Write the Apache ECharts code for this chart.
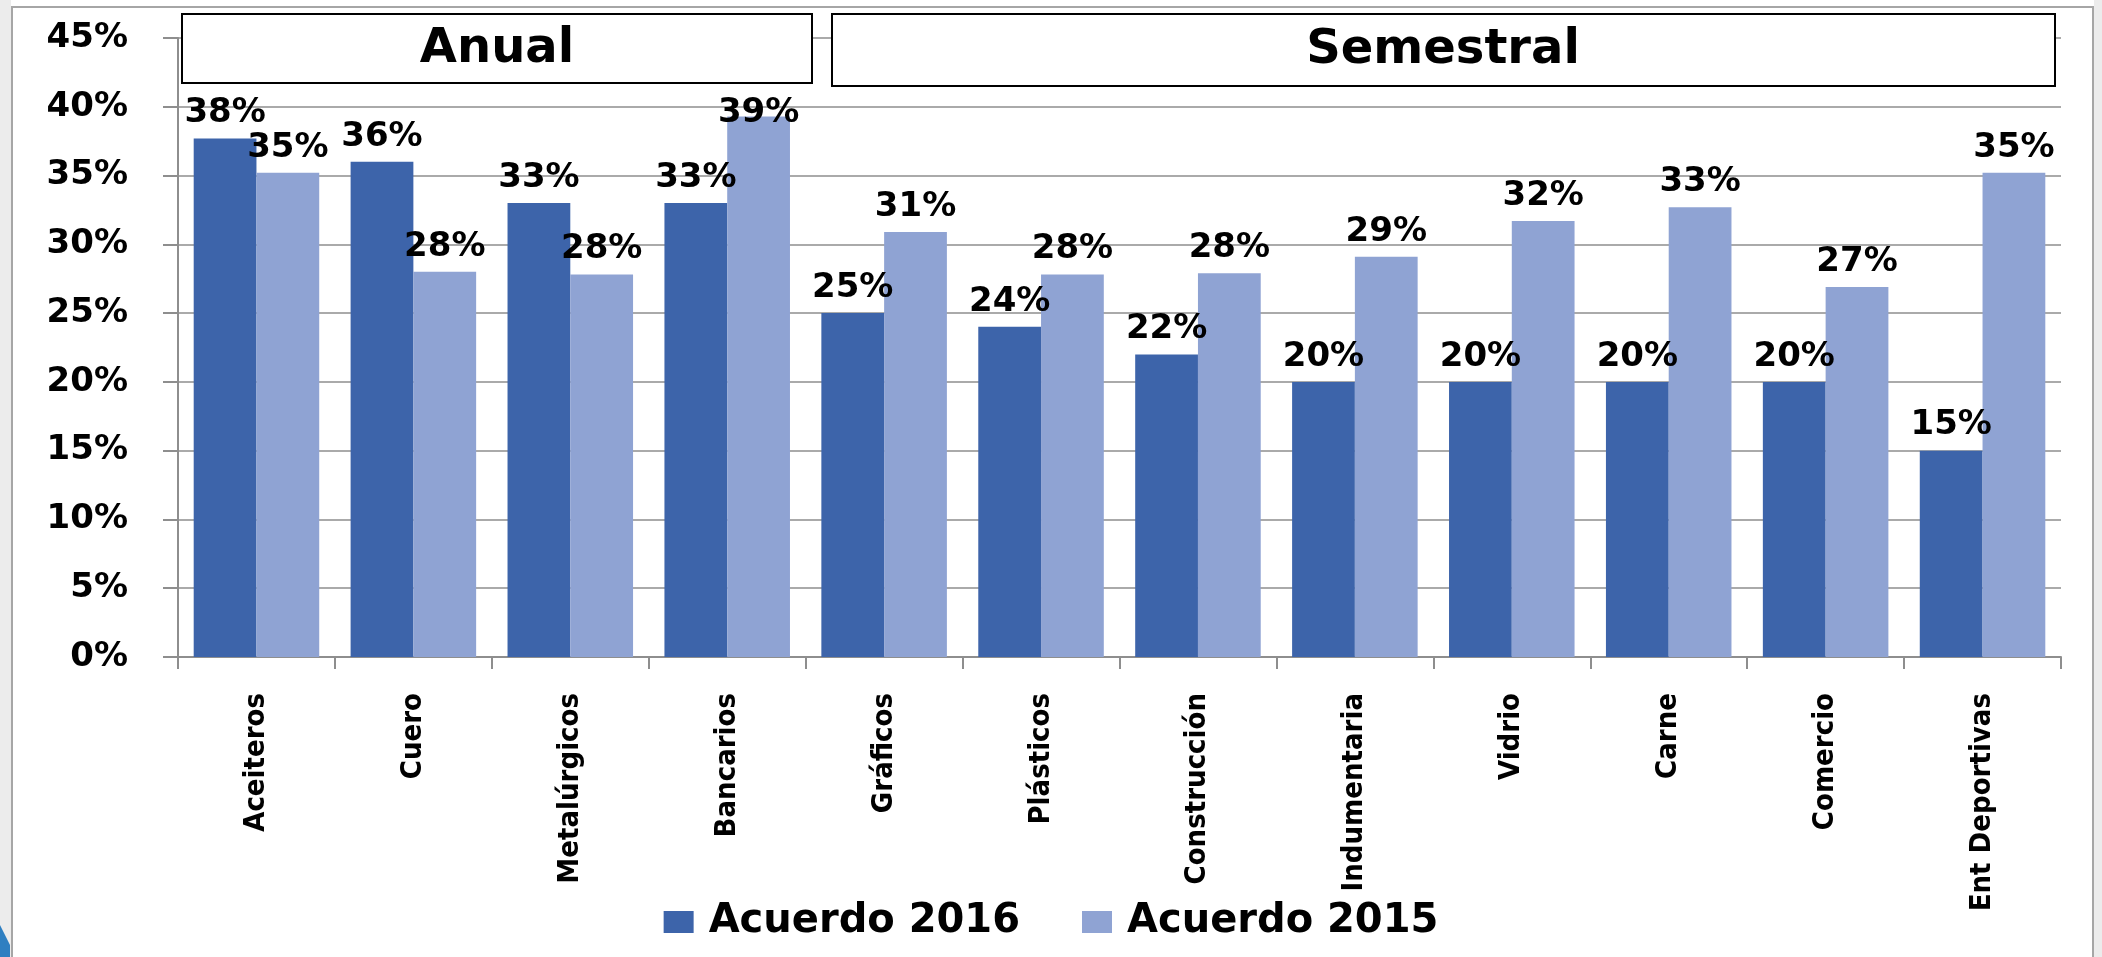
<!DOCTYPE html>
<html>
<head>
<meta charset="utf-8">
<script src="https://cdn.jsdelivr.net/npm/echarts@6/dist/echarts.min.js"></script>
<style>
  html, body { margin: 0; padding: 0; background: #fff; }
  #main { width: 2102px; height: 957px; }
</style>
</head>
<body>
<div id="main"></div>
<script>
// categorias (eje x)
var sectores = ['Aceiteros', 'Cuero', 'Metalúrgicos', 'Bancarios', 'Gráficos', 'Plásticos',
  'Construcción', 'Indumentaria', 'Vidrio', 'Carne', 'Comercio', 'Ent Deportivas'];
// porcentajes
var acuerdo2016 = [37.7, 36.0, 33.0, 33.0, 25.0, 24.0, 22.0, 20.0, 20.0, 20.0, 20.0, 15.0];
var acuerdo2015 = [35.2, 28.0, 27.8, 39.3, 30.9, 27.8, 27.9, 29.1, 31.7, 32.7, 26.9, 35.2];
var nombres = ['Acuerdo 2016', 'Acuerdo 2015'];
var colores = ['#3d64aa', '#8fa3d3'];

var fuente = 'DejaVu Sans';
var fuenteEstrecha = '"Liberation Sans Narrow", "DejaVu Sans Condensed", "Roboto Condensed", "Liberation Sans", sans-serif';

var myChart = echarts.init(document.getElementById('main'));

var etiqueta = {//etiquetas encima de las barras
  show: true,
  position: 'top',
  distance: 8,
  color: '#000',
  fontFamily: fuente,
  fontWeight: 'bold',
  fontSize: 34,
  formatter: function (p) { return Math.round(p.value) + '%'; }
};

// la etiqueta de Bancarios 2015 queda bajo la caja "Anual", se baja un poco
var datos2015 = acuerdo2015.map(function (v, i) {
  if (sectores[i] === 'Bancarios') {
    return { value: v, label: { offset: [0, 22] } };
  }
  return v;
});

var option = {
  backgroundColor: '#fff',
  animation: false,
  color: colores,
  grid: { left: 178, right: 41, top: 38, bottom: 300 },
  legend: {
    data: nombres,
    top: 897,
    left: 'center',
    itemWidth: 30,
    itemHeight: 22,
    itemGap: 62,
    icon: 'rect',
    textStyle: {
      fontFamily: fuente,
      fontWeight: 'bold',
      fontSize: 40,
      color: '#000',
      padding: [0, 0, 0, 10]
    }
  },
  xAxis: {
    type: 'category',
    data: sectores,
    axisLine: { lineStyle: { color: '#8e8e8e', width: 2 } },
    axisTick: { show: true, length: 12, lineStyle: { color: '#8e8e8e', width: 2 } },
    axisLabel: {
      rotate: 90,
      margin: 36,
      color: '#000',
      fontFamily: fuenteEstrecha,
      fontWeight: 'bold',
      fontSize: 29,
      interval: 0
    }
  },
  yAxis: {
    type: 'value',
    min: 0,
    max: 45,
    interval: 5,
    axisLine: { show: true, lineStyle: { color: '#8e8e8e', width: 2 } },
    axisTick: { show: true, length: 15, lineStyle: { color: '#8e8e8e', width: 2 } },
    splitLine: { show: true, lineStyle: { color: '#8e8e8e', width: 1.5 } },
    axisLabel: {
      formatter: '{value}%',
      margin: 50,
      color: '#000',
      fontFamily: fuente,
      fontWeight: 'bold',
      fontSize: 34
    }
  },
  series: [
    {
      name: nombres[0],
      type: 'bar',
      data: acuerdo2016,
      barGap: '0%',
      barCategoryGap: '20%',
      label: etiqueta
    },
    {
      name: nombres[1],
      type: 'bar',
      data: datos2015,
      barGap: '0%',
      barCategoryGap: '20%',
      label: etiqueta
    }
  ],
  graphic: [
    // marco exterior
    { type: 'rect', z: 1, shape: { x: 12, y: 7, width: 2081, height: 970 },
      style: { fill: 'none', stroke: '#a6a6a6', lineWidth: 2 } },
    { type: 'rect', z: 1, shape: { x: 0, y: 0, width: 11, height: 957 },
      style: { fill: '#ececec' } },
    { type: 'rect', z: 1, shape: { x: 2094, y: 0, width: 8, height: 957 },
      style: { fill: '#ececec' } },
    { type: 'polygon', z: 2, shape: { points: [[0, 925], [10, 945], [10, 957], [0, 957]] },
      style: { fill: '#2f7fc1' } },
    // cajas de titulo
    { type: 'rect', z: 100, shape: { x: 182, y: 14, width: 630, height: 69 },
      style: { fill: '#fff', stroke: '#000', lineWidth: 2 } },
    { type: 'text', z: 101, x: 497, y: 50,
      style: { text: 'Anual', fill: '#000', font: 'bold 48px "DejaVu Sans"', align: 'center', verticalAlign: 'middle' } },
    { type: 'rect', z: 100, shape: { x: 832, y: 14, width: 1223, height: 72 },
      style: { fill: '#fff', stroke: '#000', lineWidth: 2 } },
    { type: 'text', z: 101, x: 1443, y: 51,
      style: { text: 'Semestral', fill: '#000', font: 'bold 48px "DejaVu Sans"', align: 'center', verticalAlign: 'middle' } }
  ]
};

myChart.setOption(option);
</script>
</body>
</html>
